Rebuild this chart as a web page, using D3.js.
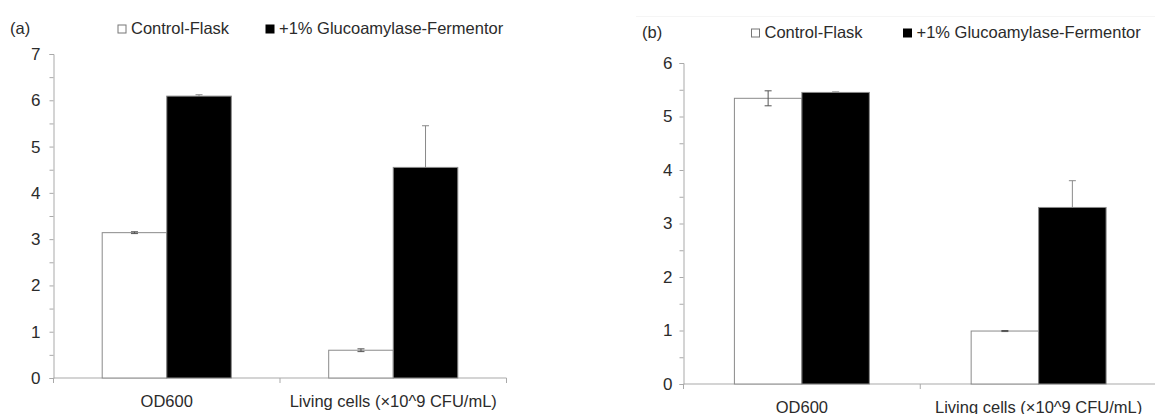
<!DOCTYPE html>
<html>
<head>
<meta charset="utf-8">
<script src="https://cdn.jsdelivr.net/npm/d3@7"></script>
<style>
  html, body { margin: 0; padding: 0; background: #fff; }
  svg { display: block; font-family: "Liberation Sans", Arial, sans-serif; }
</style>
</head>
<body>
<svg id="chart" width="1155" height="414"></svg>
<script>
// Measured groups and series
const categories = ["OD600", "Living cells (×10^9 CFU/mL)"];
const seriesNames = ["Control-Flask", "+1% Glucoamylase-Fermentor"];

// Panel (a)
const controlA = [3.14, 0.60];
const controlErrA = [0.02, 0.03];
const fermentorA = [6.09, 4.55];
const fermentorErrA = [0.03, 0.90];
const ticksA = [0, 1, 2, 3, 4, 5, 6, 7];

// Panel (b)
const controlB = [5.34, 0.99];
const controlErrB = [0.14, 0.01];
const fermentorB = [5.45, 3.30];
const fermentorErrB = [0.01, 0.50];
const ticksB = [0, 1, 2, 3, 4, 5, 6];

const svg = d3.select("#chart");
const AXIS = "#a9a9a9";
const TEXT = "#2b2b2b";
const FS = "16.5px";

// faint rule along the top of panel (b)
svg.append("line")
  .attr("x1", 636).attr("x2", 1155).attr("y1", 16.5).attr("y2", 16.5)
  .attr("stroke", "#f5f5f5").attr("stroke-width", 1);

function drawPanel(p) {
  const g = svg.append("g");
  const x = d3.scaleBand().domain(categories).range([p.x0, p.x1]).padding(0);
  const w = x.bandwidth();
  const xs = d3.scaleBand().domain(seriesNames).range([w * 0.215, w * 0.785]).padding(0);
  const y = d3.scaleLinear().domain([0, d3.max(p.ticks)]).range([p.y0, p.y1]);

  // y axis: major ticks with labels, minor ticks at half units
  const minor = d3.range(0.5, d3.max(p.ticks), 1);
  const yMinor = g.append("g").attr("transform", `translate(${p.x0},0)`)
    .call(d3.axisLeft(y).tickValues(minor).tickSize(4).tickFormat(""));
  const yAxis = g.append("g").attr("transform", `translate(${p.x0},0)`)
    .call(d3.axisLeft(y).tickValues(p.ticks).tickSize(4).tickPadding(p.tickPad).tickFormat(d3.format("d")));
  [yMinor, yAxis].forEach(a => {
    a.selectAll("path").attr("stroke", AXIS);
    a.selectAll("line").attr("stroke", AXIS);
  });
  yMinor.select(".domain").remove();
  yAxis.selectAll("text").attr("fill", TEXT).style("font-size", "17px")
    .style("font-family", "'Liberation Sans', Arial, sans-serif");

  // x axis: baseline with ticks between the category groups
  const xAxis = g.append("g");
  xAxis.append("line")
    .attr("x1", p.x0).attr("x2", p.x1).attr("y1", y(0)).attr("y2", y(0))
    .attr("stroke", AXIS);
  const bounds = categories.map(c => x(c)).concat([p.x1]);
  xAxis.selectAll("line.tick").data(bounds).join("line")
    .attr("class", "tick")
    .attr("x1", d => d).attr("x2", d => d)
    .attr("y1", y(0)).attr("y2", y(0) + 5)
    .attr("stroke", AXIS);
  xAxis.selectAll("text").data(categories).join("text")
    .attr("x", d => x(d) + w / 2)
    .attr("y", p.labelY)
    .attr("text-anchor", "middle")
    .attr("fill", TEXT).style("font-size", FS)
    .text(d => d);

  const rows = categories.map((c, i) => ({
    c,
    ctrl: p.control[i], ctrlErr: p.controlErr[i],
    ferm: p.fermentor[i], fermErr: p.fermentorErr[i]
  }));

  function whisker(sel, cx, v, e, color) {
    const cap = 3.5;
    sel.append("line").attr("x1", cx).attr("x2", cx)
      .attr("y1", y(v - e)).attr("y2", y(v + e)).attr("stroke", color);
    [v - e, v + e].forEach(val => {
      sel.append("line").attr("x1", cx - cap).attr("x2", cx + cap)
        .attr("y1", y(val)).attr("y2", y(val)).attr("stroke", color);
    });
  }

  // fermentor whiskers sit behind their black bars, so only the upper half shows
  const errBack = g.append("g");
  rows.forEach(r => {
    const cx = x(r.c) + xs(seriesNames[1]) + xs.bandwidth() / 2;
    whisker(errBack, cx, r.ferm, r.fermErr, "#8a8a8a");
  });

  const bars = g.append("g");
  bars.selectAll("rect.ctrl").data(rows).join("rect")
    .attr("class", "ctrl")
    .attr("x", d => x(d.c) + xs(seriesNames[0]))
    .attr("y", d => y(d.ctrl))
    .attr("width", xs.bandwidth())
    .attr("height", d => y(0) - y(d.ctrl))
    .attr("fill", "#fff").attr("stroke", "#8a8a8a").attr("stroke-width", 1);
  bars.selectAll("rect.ferm").data(rows).join("rect")
    .attr("class", "ferm")
    .attr("x", d => x(d.c) + xs(seriesNames[1]))
    .attr("y", d => y(d.ferm))
    .attr("width", xs.bandwidth())
    .attr("height", d => y(0) - y(d.ferm))
    .attr("fill", "#000").attr("stroke", "#8a8a8a").attr("stroke-width", 1);

  const errFront = g.append("g");
  rows.forEach(r => {
    const cx = x(r.c) + xs(seriesNames[0]) + xs.bandwidth() / 2;
    whisker(errFront, cx, r.ctrl, r.ctrlErr, "#555");
  });

  // panel tag and legend
  g.append("text").attr("x", p.tagX).attr("y", p.legendY)
    .attr("fill", TEXT).style("font-size", FS).text(p.tag);
  const leg = g.append("g");
  p.legendX.forEach((lx, i) => {
    leg.append("rect")
      .attr("x", lx).attr("y", p.legendY - 9)
      .attr("width", 8).attr("height", 8)
      .attr("fill", i === 0 ? "#fff" : "#000")
      .attr("stroke", i === 0 ? "#777" : "#000");
    leg.append("text")
      .attr("x", lx + 13).attr("y", p.legendY)
      .attr("fill", TEXT).style("font-size", FS)
      .text(seriesNames[i]);
  });
}

drawPanel({
  tag: "(a)", tagX: 10, legendY: 34, legendX: [118, 266],
  x0: 53.5, x1: 506.5, y0: 378, y1: 54, labelY: 407, tickPad: 9,
  ticks: ticksA,
  control: controlA, controlErr: controlErrA,
  fermentor: fermentorA, fermentorErr: fermentorErrA
});

drawPanel({
  tag: "(b)", tagX: 642, legendY: 38, legendX: [751.5, 903.5],
  x0: 683.5, x1: 1157, y0: 384, y1: 63, labelY: 412.5, tickPad: 7,
  ticks: ticksB,
  control: controlB, controlErr: controlErrB,
  fermentor: fermentorB, fermentorErr: fermentorErrB
});
</script>
</body>
</html>
